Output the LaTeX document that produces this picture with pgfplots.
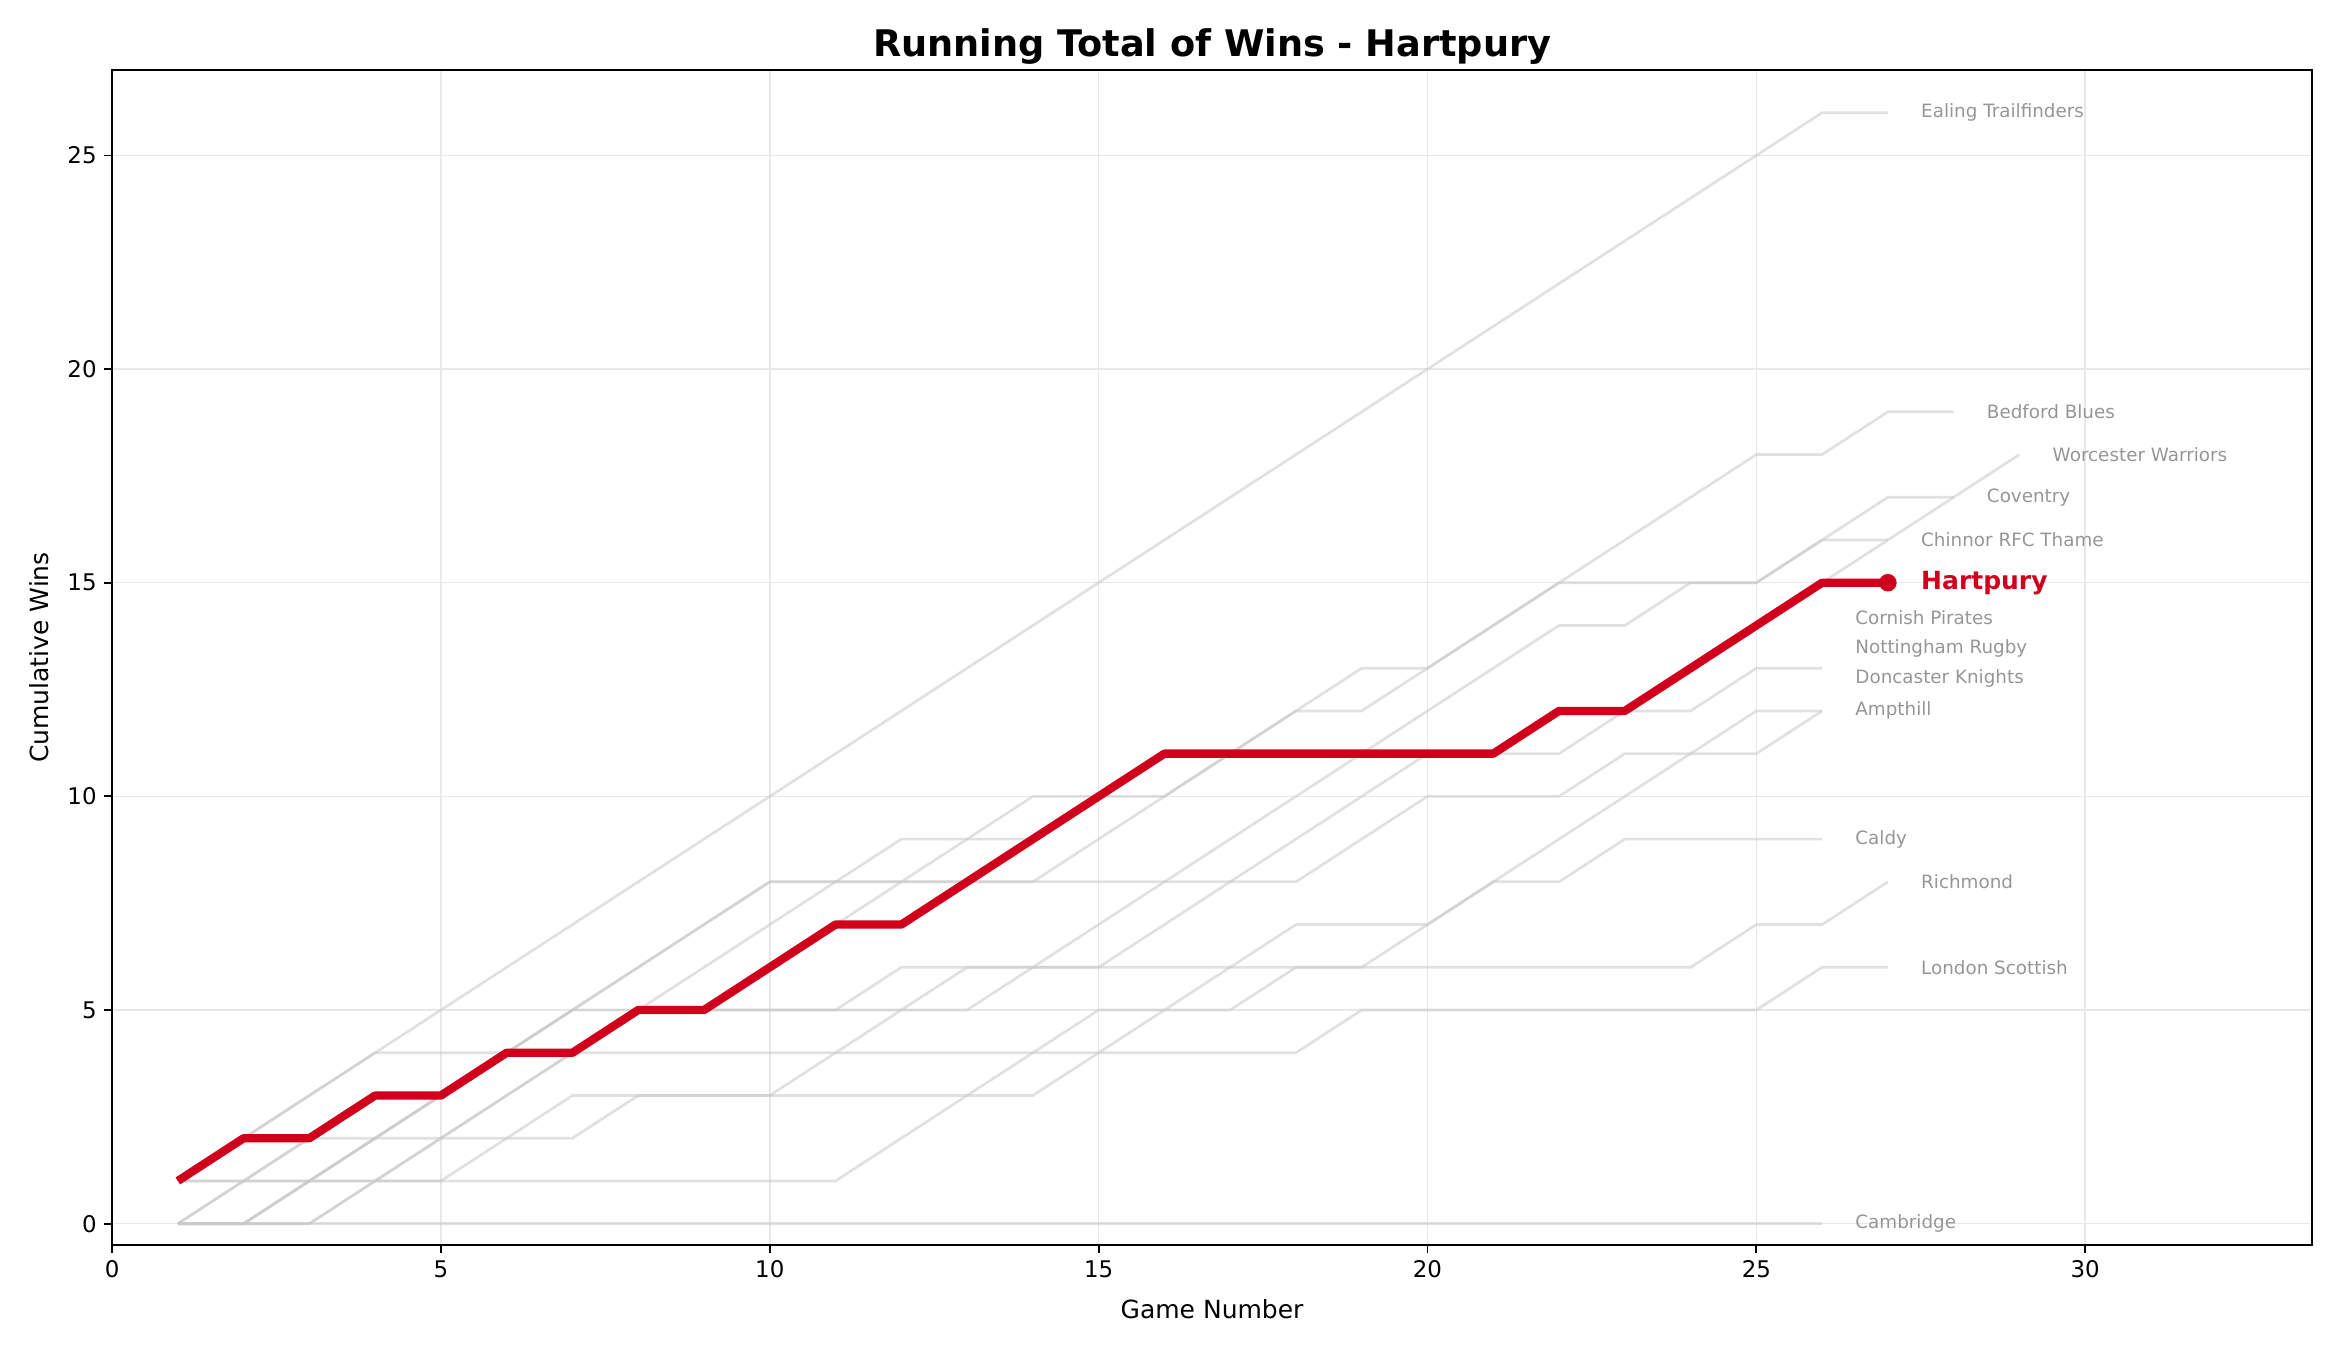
\documentclass[border=0pt]{standalone}
\usepackage{fontspec}
\setmainfont{DejaVu Sans}
\usepackage{pgfplots}
\pgfplotsset{compat=1.18}
\usetikzlibrary{calc}
\definecolor{hred}{RGB}{208,0,28}
\definecolor{lgrey}{RGB}{200,200,200}
\definecolor{labgrey}{RGB}{150,150,150}
\begin{document}
\begin{tikzpicture}
\begin{axis}[name=ax, scale only axis, width=1056pt, height=564pt,
  xmin=0, xmax=33.45, ymin=-0.5, ymax=27,
  xtick={0,5,...,30}, ytick={0,5,...,25},
  xtick pos=left, ytick pos=left,
  tick align=outside, major tick length=3.9pt,
  tick style={black, line width=0.9pt},
  axis line style={black, line width=0.9pt},
  grid=major, grid style={color=gray!18, line width=0.7pt},
  ticklabel style={font=\fontsize{11}{13}\selectfont},
  /pgf/number format/assume math mode=true,
  xlabel={Game Number}, ylabel={Cumulative Wins},
  label style={font=\fontsize{12}{14}\selectfont},
  xlabel style={at={(axis description cs:0.5,-0.0544)}, anchor=center},
  ylabel style={at={(axis description cs:-0.0333,0.5)}, anchor=center},
  title={Running Total of Wins - Hartpury},
  title style={font=\fontsize{17.6}{20}\selectfont\bfseries, at={(axis description cs:0.5,1.0006)}, anchor=base},
  clip=false,
  every axis plot/.append style={line join=round},
]
% grey teams
\addplot[lgrey, opacity=0.55, line width=1.3pt] coordinates {(1,1)(2,2)(3,3)(4,4)(5,5)(6,6)(7,7)(8,8)(9,9)(10,10)(11,11)(12,12)(13,13)(14,14)(15,15)(16,16)(17,17)(18,18)(19,19)(20,20)(21,21)(22,22)(23,23)(24,24)(25,25)(26,26)(27,26)};
\addplot[lgrey, opacity=0.55, line width=1.3pt] coordinates {(1,0)(2,0)(3,1)(4,2)(5,3)(6,4)(7,5)(8,6)(9,7)(10,8)(11,8)(12,8)(13,8)(14,8)(15,9)(16,10)(17,11)(18,12)(19,12)(20,13)(21,14)(22,15)(23,16)(24,17)(25,18)(26,18)(27,19)(28,19)};
\addplot[lgrey, opacity=0.55, line width=1.3pt] coordinates {(1,0)(2,0)(3,0)(4,1)(5,2)(6,3)(7,4)(8,5)(9,6)(10,7)(11,8)(12,9)(13,9)(14,9)(15,10)(16,11)(17,11)(18,11)(19,11)(20,11)(21,11)(22,12)(23,12)(24,13)(25,14)(26,15)(27,16)(28,17)(29,18)};
\addplot[lgrey, opacity=0.55, line width=1.3pt] coordinates {(1,0)(2,0)(3,1)(4,2)(5,3)(6,4)(7,5)(8,5)(9,5)(10,5)(11,5)(12,5)(13,5)(14,6)(15,7)(16,8)(17,9)(18,10)(19,11)(20,12)(21,13)(22,14)(23,14)(24,15)(25,15)(26,16)(27,17)(28,17)};
\addplot[lgrey, opacity=0.55, line width=1.3pt] coordinates {(1,1)(2,2)(3,2)(4,3)(5,3)(6,4)(7,4)(8,5)(9,5)(10,6)(11,7)(12,8)(13,9)(14,10)(15,10)(16,10)(17,11)(18,12)(19,13)(20,13)(21,14)(22,15)(23,15)(24,15)(25,15)(26,16)(27,16)};
\addplot[lgrey, opacity=0.55, line width=1.3pt] coordinates {(1,0)(2,1)(3,2)(4,3)(5,3)(6,4)(7,4)(8,5)(9,5)(10,6)(11,7)(12,7)(13,8)(14,9)(15,10)(16,11)(17,11)(18,11)(19,11)(20,11)(21,11)(22,12)(23,12)(24,13)(25,14)(26,15)};
\addplot[lgrey, opacity=0.55, line width=1.3pt] coordinates {(1,0)(2,1)(3,2)(4,2)(5,2)(6,2)(7,2)(8,3)(9,3)(10,3)(11,4)(12,5)(13,6)(14,6)(15,6)(16,7)(17,8)(18,9)(19,10)(20,11)(21,11)(22,11)(23,12)(24,12)(25,13)(26,13)};
\addplot[lgrey, opacity=0.55, line width=1.3pt] coordinates {(1,1)(2,1)(3,1)(4,1)(5,1)(6,1)(7,1)(8,1)(9,1)(10,1)(11,1)(12,2)(13,3)(14,4)(15,5)(16,5)(17,5)(18,6)(19,6)(20,7)(21,8)(22,9)(23,10)(24,11)(25,12)(26,12)};
\addplot[lgrey, opacity=0.55, line width=1.3pt] coordinates {(1,0)(2,0)(3,1)(4,2)(5,3)(6,4)(7,5)(8,6)(9,7)(10,8)(11,8)(12,8)(13,8)(14,8)(15,8)(16,8)(17,8)(18,8)(19,9)(20,10)(21,10)(22,10)(23,11)(24,11)(25,11)(26,12)};
\addplot[lgrey, opacity=0.55, line width=1.3pt] coordinates {(1,1)(2,1)(3,1)(4,1)(5,1)(6,2)(7,3)(8,3)(9,3)(10,3)(11,3)(12,3)(13,3)(14,3)(15,4)(16,5)(17,6)(18,7)(19,7)(20,7)(21,8)(22,8)(23,9)(24,9)(25,9)(26,9)};
\addplot[lgrey, opacity=0.55, line width=1.3pt] coordinates {(1,0)(2,0)(3,0)(4,1)(5,2)(6,3)(7,4)(8,5)(9,5)(10,5)(11,5)(12,6)(13,6)(14,6)(15,6)(16,6)(17,6)(18,6)(19,6)(20,6)(21,6)(22,6)(23,6)(24,6)(25,7)(26,7)(27,8)};
\addplot[lgrey, opacity=0.55, line width=1.3pt] coordinates {(1,1)(2,2)(3,3)(4,4)(5,4)(6,4)(7,4)(8,4)(9,4)(10,4)(11,4)(12,4)(13,4)(14,4)(15,4)(16,4)(17,4)(18,4)(19,5)(20,5)(21,5)(22,5)(23,5)(24,5)(25,5)(26,6)(27,6)};
\addplot[lgrey, opacity=0.55, line width=1.3pt] coordinates {(1,0)(2,0)(3,0)(4,0)(5,0)(6,0)(7,0)(8,0)(9,0)(10,0)(11,0)(12,0)(13,0)(14,0)(15,0)(16,0)(17,0)(18,0)(19,0)(20,0)(21,0)(22,0)(23,0)(24,0)(25,0)(26,0)};
% Hartpury
\addplot[hred, line width=4pt] coordinates {(1,1)(2,2)(3,2)(4,3)(5,3)(6,4)(7,4)(8,5)(9,5)(10,6)(11,7)(12,7)(13,8)(14,9)(15,10)(16,11)(17,11)(18,11)(19,11)(20,11)(21,11)(22,12)(23,12)(24,13)(25,14)(26,15)(27,15)};
\addplot[only marks, mark=*, mark size=4pt, color=hred] coordinates {(27,15)};
% labels
\begin{scope}[every node/.style={anchor=west, inner sep=0pt, text=labgrey, font=\fontsize{8.8}{10}\selectfont}]
\node at (axis cs:27.5,26) {Ealing Trailfinders};
\node at (axis cs:28.5,19) {Bedford Blues};
\node at (axis cs:29.5,18) {Worcester Warriors};
\node at (axis cs:28.5,17) {Coventry};
\node at (axis cs:27.5,16) {Chinnor RFC Thame};
\node at (axis cs:26.5,14.19) {Cornish Pirates};
\node at (axis cs:26.5,13.46) {Nottingham Rugby};
\node at (axis cs:26.5,12.75) {Doncaster Knights};
\node at (axis cs:26.5,12.02) {Ampthill};
\node at (axis cs:26.5,9) {Caldy};
\node at (axis cs:27.5,8) {Richmond};
\node at (axis cs:27.5,6) {London Scottish};
\node at (axis cs:26.5,0) {Cambridge};
\end{scope}
\node[anchor=west, inner sep=0pt, text=hred, font=\fontsize{12}{14}\selectfont\bfseries] at (axis cs:27.5,15) {Hartpury};
\end{axis}
\pgfresetboundingbox
\path ($(ax.south west)+(-53.8pt,-50.4pt)$) rectangle ($(ax.north east)+(13.4pt,33.6pt)$);
\end{tikzpicture}
\end{document}
